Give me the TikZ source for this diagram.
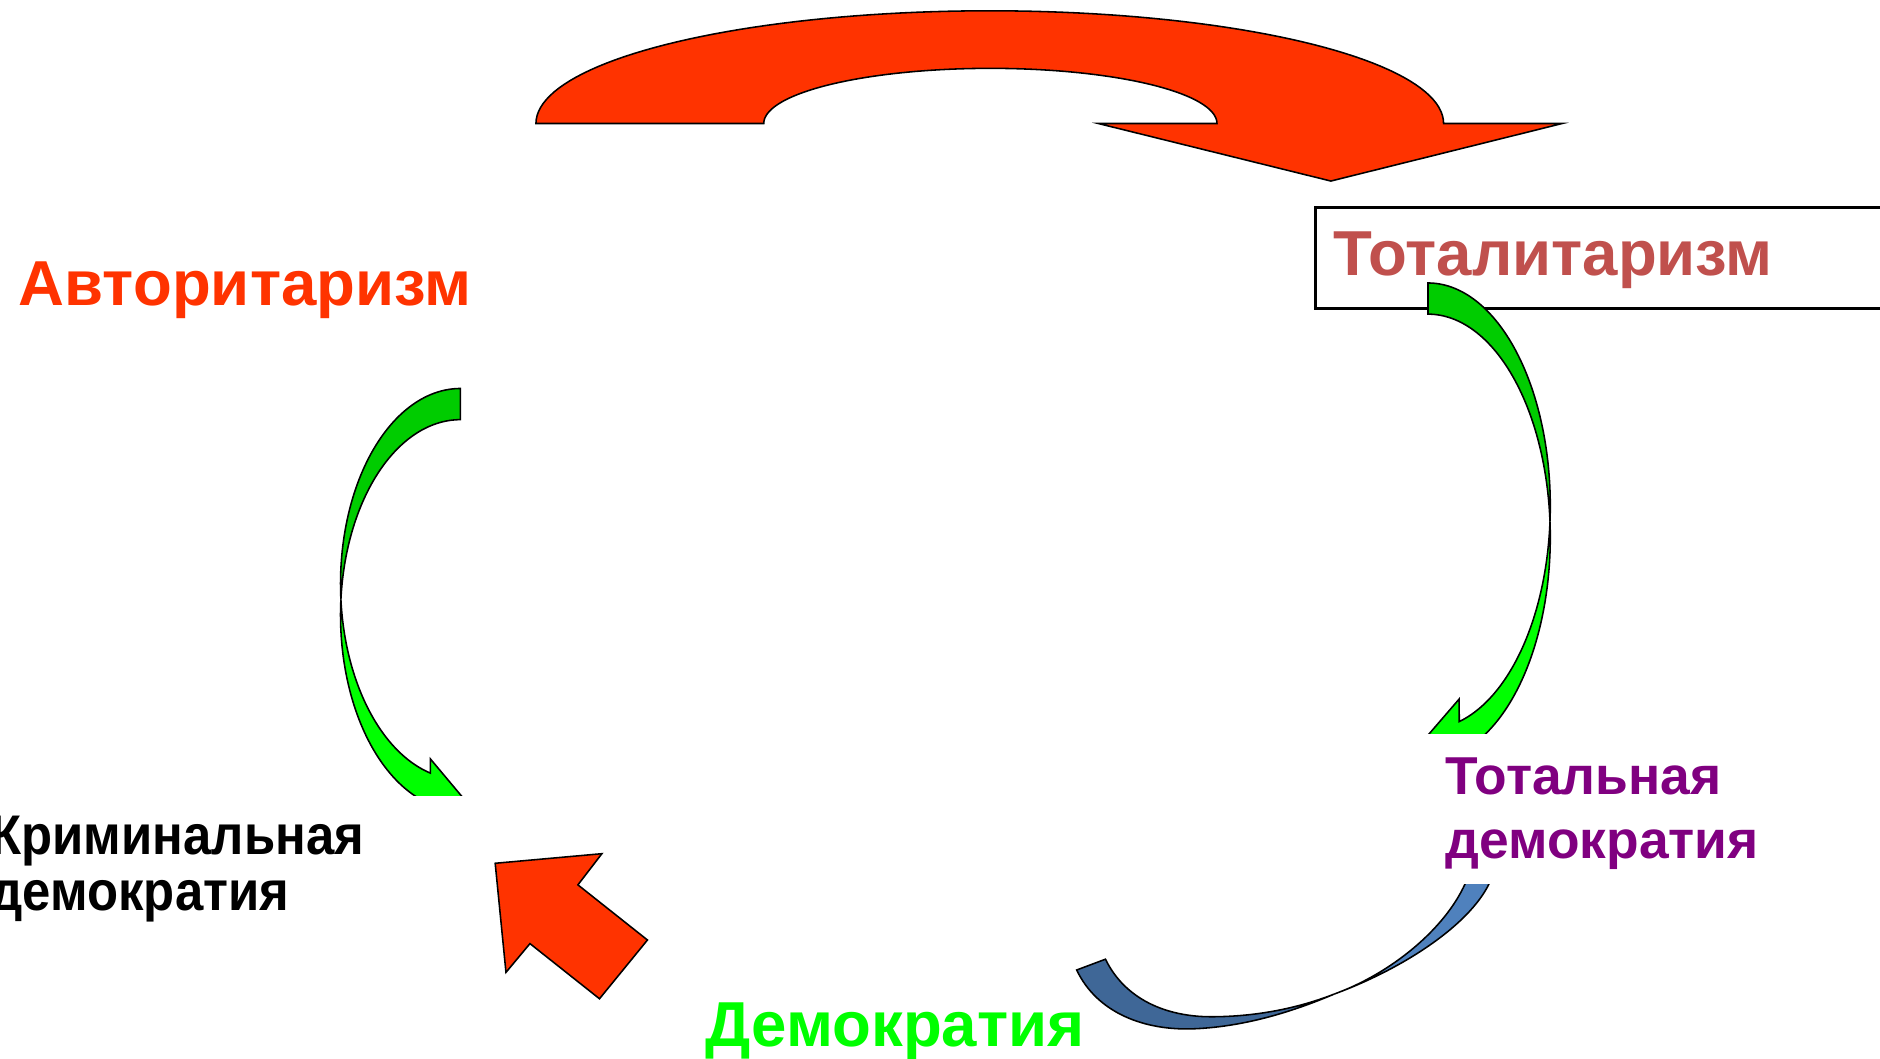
\documentclass[tikz,border=0pt]{standalone}
\usepackage{fontspec}
\setmainfont{Liberation Sans}
\newfontfamily\narrowfont{Liberation Sans}[FakeStretch=0.91]
\definecolor{redarrow}{HTML}{FF3300}
\definecolor{totred}{HTML}{C0504D}
\definecolor{purp}{HTML}{800080}
\definecolor{gbright}{HTML}{00FF00}
\definecolor{gdark}{HTML}{00CC00}
\definecolor{blight}{HTML}{4F81BD}
\definecolor{bdark}{HTML}{3F6797}
\begin{document}
\begin{tikzpicture}[x=1pt,y=-1pt,
  blockarrow/.style={draw=black, line width=1.3pt, line join=miter},
  txt/.style={inner sep=0pt, anchor=base west},
  cover/.style={fill=white, draw=none, inner sep=0pt, anchor=north west},
  bigfont/.style={font=\fontsize{#1}{#1}\selectfont\bfseries}]
\useasboundingbox (0,0) rectangle (1568,883);
\clip (0,0) rectangle (1568,883);

% big red curved arrow on top
\draw[blockarrow, fill=redarrow] (447,103)
  -- plot[domain=180:360, samples=90] ({825.5+378.5*cos(\x)}, {103+94*sin(\x)})
  -- (1303,103) -- (1110,151) -- (916,103) -- (1015,103)
  -- plot[domain=360:180, samples=90] ({826+189*cos(\x)}, {103+46*sin(\x)})
  -- cycle;

% box of Totalitarism
\node[draw=black, line width=2.2pt, fill=white, inner sep=0pt, anchor=north west,
      minimum width=520pt, minimum height=84pt] (totbox) at (1096,172) {};

% right green arrow (upper, back face)
\draw[blockarrow, fill=gdark] (1191,236)
  -- plot[domain=-90:4, samples=60] ({1191+102*cos(\x)}, {422+186*sin(\x)})
  -- plot[domain=-4:-90, samples=60] ({1191+102*cos(\x)}, {448+186*sin(\x)})
  -- cycle;
% right green arrow (lower, front face with head)
\draw[blockarrow, fill=gbright]
  plot[domain=-4:75.2, samples=60] ({1191+102*cos(\x)}, {448+186*sin(\x)})
  -- (1217,647) -- (1179.5,626.5) -- (1217,583)
  -- plot[domain=75.2:4, samples=60] ({1191+102*cos(\x)}, {422+186*sin(\x)})
  -- cycle;

% left green arrow (upper, back face)
\draw[blockarrow, fill=gdark] (384,324)
  -- plot[domain=-90:4.57, samples=60] ({384-100*cos(\x)}, {487+163*sin(\x)})
  -- plot[domain=-4.57:-90, samples=60] ({384-100*cos(\x)}, {513+163*sin(\x)})
  -- cycle;
% left green arrow (lower, front face with head)
\draw[blockarrow, fill=gbright]
  plot[domain=-4.57:75.5, samples=60] ({384-100*cos(\x)}, {513+163*sin(\x)})
  -- (359,685) -- (398,679.5) -- (359,633)
  -- plot[domain=75.5:4.57, samples=60] ({384-100*cos(\x)}, {487+163*sin(\x)})
  -- cycle;

% blue arrow: back face
\draw[blockarrow, fill=bdark] (898,809)
  .. controls (915,845) and (955,860) .. (997,858)
  .. controls (1040,856) and (1080,843) .. (1113,829)
  .. controls (1085,840) and (1050,848) .. (1010,848)
  .. controls (972,848) and (938,833) .. (922,800)
  -- cycle;
% blue arrow: front face
\draw[blockarrow, fill=blight] (1113,829)
  .. controls (1160,812) and (1205,775) .. (1222,737)
  -- (1228,722) -- (1248,722) -- (1242,737)
  .. controls (1225,772) and (1170,808) .. (1113,829)
  -- cycle;

% white text boxes covering the arrow heads
\node[cover, minimum width=340pt, minimum height=125pt] (tdbox) at (1150,612) {};
\node[cover, minimum width=412pt, minimum height=126pt] (kdbox) at (-12,664) {};

% small red arrow
\draw[blockarrow, fill=redarrow] (413,720) -- (502,712) -- (482,738) -- (540,784)
  -- (500,833) -- (442,787) -- (422,811) -- cycle;

% texts
\node[txt, bigfont=53, text=redarrow] (avt) at (15.5,255) {Авторитаризм};
\node[txt, bigfont=53, text=totred] (tot) at (1112,230) {Тоталитаризм};
\node[txt, bigfont=44.5, text=purp] (td1) at (1205.5,663) {Тотальная};
\node[txt, bigfont=44.5, text=purp] (td2) at (1205.5,716) {демократия};
\node[txt, font=\narrowfont\fontsize{46.6}{46.6}\selectfont\bfseries] (kd1) at (-8,713) {Криминальная};
\node[txt, font=\narrowfont\fontsize{46.6}{46.6}\selectfont\bfseries] (kd2) at (-8,759) {демократия};
\node[txt, bigfont=53, text=gbright] (dem) at (588.5,873) {Демократия};
\end{tikzpicture}
\end{document}
